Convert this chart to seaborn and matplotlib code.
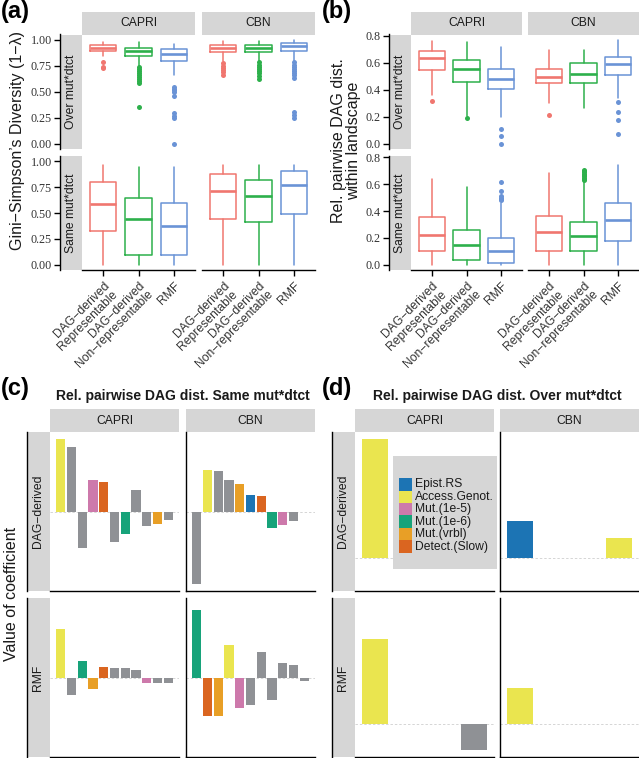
import matplotlib
matplotlib.use("Agg")
import matplotlib.pyplot as plt
from matplotlib.patches import Rectangle
import seaborn as sns
import numpy as np
import pandas as pd

# ---------------- data ----------------
BOX_GROUPS = ["DAG\u2212derived\nRepresentable", "DAG\u2212derived\nNon\u2212representable", "RMF"]
METHODS = ["CAPRI", "CBN"]
AB_ROWS = ["Over mut*dtct", "Same mut*dtct"]
BOX_COLORS = ["#F0766F", "#2DB04B", "#6A93D6"]

# (whisker low, Q1, median, Q3, whisker high) per group
A_OVER_CAPRI = [(0.846, 0.888, 0.920, 0.952, 0.974), (0.750, 0.846, 0.888, 0.920, 0.974), (0.663, 0.800, 0.865, 0.910, 0.960)]
A_OVER_CAPRI_OUT = [[0.79, 0.74, 0.73],
                    [0.737, 0.72, 0.70, 0.68, 0.66, 0.64, 0.62, 0.60, 0.583, 0.349],
                    [0.545, 0.53, 0.52, 0.50, 0.455, 0.295, 0.27, 0.247, 0.0]]
A_OVER_CBN = [(0.800, 0.880, 0.920, 0.952, 0.990), (0.800, 0.880, 0.920, 0.952, 0.990), (0.790, 0.888, 0.936, 0.968, 1.000)]
A_OVER_CBN_OUT = [[0.776, 0.75, 0.73, 0.71, 0.69, 0.657],
                  [0.785, 0.76, 0.74, 0.72, 0.70, 0.68, 0.65, 0.625],
                  [0.785, 0.76, 0.74, 0.72, 0.70, 0.68, 0.66, 0.63, 0.31, 0.28, 0.247]]
A_SAME_CAPRI = [(0.0, 0.327, 0.589, 0.795, 0.96), (0.0, 0.096, 0.445, 0.647, 0.94), (0.0, 0.096, 0.375, 0.593, 0.94)]
A_SAME_CAPRI_OUT = [[], [], []]
A_SAME_CBN = [(0.0, 0.440, 0.714, 0.872, 0.96), (0.0, 0.413, 0.666, 0.814, 0.96), (0.0, 0.490, 0.772, 0.901, 0.96)]
A_SAME_CBN_OUT = [[], [], []]

B_OVER_CAPRI = [(0.359, 0.548, 0.633, 0.690, 0.765), (0.209, 0.458, 0.553, 0.620, 0.757), (0.200, 0.404, 0.484, 0.558, 0.715)]
B_OVER_CAPRI_OUT = [[0.316], [0.192], [0.112, 0.057, 0.0]]
B_OVER_CBN = [(0.304, 0.449, 0.499, 0.558, 0.698), (0.267, 0.449, 0.521, 0.596, 0.698), (0.342, 0.509, 0.593, 0.645, 0.772)]
B_OVER_CBN_OUT = [[0.217], [], [0.309, 0.234, 0.174, 0.075]]
B_SAME_CAPRI = [(0.0, 0.105, 0.225, 0.358, 0.642), (0.0, 0.037, 0.145, 0.262, 0.582), (0.0, 0.013, 0.100, 0.200, 0.460)]
B_SAME_CAPRI_OUT = [[], [], [0.62, 0.55, 0.51, 0.50, 0.49, 0.48]]
B_SAME_CBN = [(0.0, 0.105, 0.242, 0.362, 0.682), (0.0, 0.105, 0.212, 0.317, 0.620), (0.0, 0.180, 0.332, 0.462, 0.742)]
B_SAME_CBN_OUT = [[], [0.71, 0.70, 0.69, 0.68, 0.67, 0.66, 0.65, 0.64, 0.63], []]

A_TICKS = [0.0, 0.25, 0.5, 0.75, 1.0]
A_TICKLABELS = ["0.00", "0.25", "0.50", "0.75", "1.00"]
B_TICKS = [0.0, 0.2, 0.4, 0.6, 0.8]
B_TICKLABELS = ["0.0", "0.2", "0.4", "0.6", "0.8"]

TERMS = ["Epist.RS", "Access.Genot.", "Mut.(1e-5)", "Mut.(1e-6)", "Mut.(vrbl)", "Detect.(Slow)"]
TERM_COLORS = ["#1C74B4", "#EAE54F", "#CD79AB", "#17A37A", "#E89F26", "#DA6520"]
OTHER = "other"
OTHER_COLOR = "#8F9195"
C_ROWS = ["DAG\u2212derived", "RMF"]

C_DAG_CAPRI_TERMS = ["Access.Genot.", OTHER, OTHER, "Mut.(1e-5)", "Detect.(Slow)", OTHER, "Mut.(1e-6)", OTHER, OTHER, "Mut.(vrbl)", OTHER]
C_DAG_CAPRI_VALS = [0.727, 0.650, -0.357, 0.323, 0.297, -0.297, -0.217, 0.217, -0.143, -0.117, -0.083]
C_DAG_CBN_TERMS = [OTHER, "Access.Genot.", OTHER, OTHER, "Mut.(vrbl)", "Epist.RS", "Detect.(Slow)", "Mut.(1e-6)", "Mut.(1e-5)", OTHER]
C_DAG_CBN_VALS = [-0.716, 0.423, 0.407, 0.323, 0.283, 0.167, 0.157, -0.157, -0.133, -0.093]
C_RMF_CAPRI_TERMS = ["Access.Genot.", OTHER, "Mut.(1e-6)", "Mut.(vrbl)", "Detect.(Slow)", OTHER, OTHER, OTHER, "Mut.(1e-5)", OTHER, OTHER]
C_RMF_CAPRI_VALS = [0.493, -0.173, 0.173, -0.113, 0.113, 0.100, 0.100, 0.083, -0.053, -0.053, -0.047]
C_RMF_CBN_TERMS = ["Mut.(1e-6)", "Detect.(Slow)", "Mut.(vrbl)", "Access.Genot.", "Mut.(1e-5)", OTHER, OTHER, OTHER, OTHER, OTHER, OTHER]
C_RMF_CBN_VALS = [0.683, -0.383, -0.377, 0.330, -0.300, -0.273, 0.257, -0.220, 0.150, 0.130, -0.030]
C_NSLOTS = 12

D_DAG_CAPRI_SLOTS = [1]
D_DAG_CAPRI_TERMS = ["Access.Genot."]
D_DAG_CAPRI_VALS = [1.193]
D_DAG_CBN_SLOTS = [1, 4]
D_DAG_CBN_TERMS = ["Epist.RS", "Access.Genot."]
D_DAG_CBN_VALS = [0.367, 0.200]
D_RMF_CAPRI_SLOTS = [1, 4]
D_RMF_CAPRI_TERMS = ["Access.Genot.", OTHER]
D_RMF_CAPRI_VALS = [0.850, -0.264]
D_RMF_CBN_SLOTS = [1]
D_RMF_CBN_TERMS = ["Access.Genot."]
D_RMF_CBN_VALS = [0.360]
D_NSLOTS = 4

# ---------------- style ----------------
sns.set_theme(style="white")
plt.rcParams['font.family'] = ['Liberation Sans', 'DejaVu Sans']
SERIF = ['Liberation Serif', 'DejaVu Serif']
STRIP = "#D6D6D6"
TXT = "#1A1A1A"
TICKTXT = "#333333"
SMALL = 8.7
TITLE = 11.5
PALETTE = dict(zip(TERMS, TERM_COLORS))
PALETTE[OTHER] = OTHER_COLOR

W, H = 639, 758
fig = plt.figure(figsize=(W / 100, H / 100), dpi=100)
fig.patch.set_facecolor("white")


def pax(x0, y0, x1, y1, z=1):
    return fig.add_axes([x0 / W, 1 - y1 / H, (x1 - x0) / W, (y1 - y0) / H], zorder=z)


def ftext(x, y, s, **kw):
    fig.text(x / W, 1 - y / H, s, **kw)


def hide_spines(ax, keep=()):
    for k, s in ax.spines.items():
        if k in keep:
            s.set_visible(True)
            s.set_color("black")
            s.set_linewidth(1.0)
        else:
            s.set_visible(False)


def top_strip(x0, y0, x1, y1, label):
    ax = pax(x0, y0, x1, y1)
    ax.set_facecolor(STRIP)
    hide_spines(ax)
    ax.set_xticks([]); ax.set_yticks([])
    ax.text(0.5, 0.5, label, ha='center', va='center', fontsize=SMALL, color=TXT, transform=ax.transAxes)
    return ax


def side_strip(x0, y0, x1, y1, label, ylim=None, ticks=None, ticklabels=None):
    ax = pax(x0, y0, x1, y1)
    ax.set_facecolor(STRIP)
    hide_spines(ax, keep=("left",))
    ax.set_xticks([])
    if ylim is not None:
        ax.set_ylim(*ylim)
    if ticks is not None:
        ax.set_yticks(ticks)
        ax.set_yticklabels(ticklabels, fontfamily=SERIF, fontsize=SMALL, color=TICKTXT)
        ax.tick_params(axis='y', left=True, length=4, width=1.0, color='black', pad=2)
    else:
        ax.set_yticks([])
    ax.text(0.5, 0.5, label, rotation=90, ha='center', va='center', fontsize=SMALL, color=TXT,
            transform=ax.transAxes)
    return ax


def limits(values):
    lo, hi = min(values), max(values)
    span = hi - lo
    return lo - 0.05 * span, hi + 0.05 * span


def box_panel(ax, stats5, outs, ylim, bottom):
    for i, (st, fl) in enumerate(zip(stats5, outs)):
        c = BOX_COLORS[i]
        lo, q1, md, q3, hi = st
        ax.bxp([dict(whislo=lo, q1=q1, med=md, q3=q3, whishi=hi, fliers=fl)], positions=[i + 1],
               widths=0.75, showcaps=False, showfliers=True, manage_ticks=False,
               boxprops=dict(color=c, linewidth=1.1),
               whiskerprops=dict(color=c, linewidth=1.1),
               medianprops=dict(color=c, linewidth=1.9, solid_capstyle='butt'),
               flierprops=dict(marker='o', markerfacecolor=c, markeredgecolor=c, markersize=3.6,
                               markeredgewidth=0, linestyle='none'))
    ax.set_xlim(0.4, 3.6)
    ax.set_ylim(*ylim)
    ax.set_facecolor("white")
    ax.set_yticks([])
    if bottom:
        hide_spines(ax, keep=("bottom",))
        ax.set_xticks([1, 2, 3])
        ax.set_xticklabels(BOX_GROUPS, rotation=45, ha='right', va='top', rotation_mode='anchor',
                           fontsize=SMALL, color=TICKTXT, multialignment='right', linespacing=1.0)
        ax.tick_params(axis='x', bottom=True, length=4, width=1.0, color='black', pad=3)
    else:
        hide_spines(ax)
        ax.set_xticks([])


def box_figure(xaxis, xstrip0, xcols, data, ticks, ticklabels):
    rows_y = [(34.5, 149.0), (156.0, 270.0)]
    allv = []
    for r in data:
        for stats5, outs in r:
            for st in stats5:
                allv += list(st)
            for fl in outs:
                allv += list(fl)
    ylim = limits(allv)
    for (x0, x1), m in zip(xcols, METHODS):
        top_strip(x0, 12, x1, 34.5, m)
    for ri, (y0, y1) in enumerate(rows_y):
        side_strip(xaxis, y0, xstrip0, y1, AB_ROWS[ri], ylim=ylim, ticks=ticks, ticklabels=ticklabels)
        for ci, (x0, x1) in enumerate(xcols):
            ax = pax(x0, y0, x1, y1)
            stats5, outs = data[ri][ci]
            box_panel(ax, stats5, outs, ylim, bottom=(ri == 1))


# ---------- panel (a) ----------
box_figure(60, 82, [(82, 195), (202, 315)],
           [[(A_OVER_CAPRI, A_OVER_CAPRI_OUT), (A_OVER_CBN, A_OVER_CBN_OUT)],
            [(A_SAME_CAPRI, A_SAME_CAPRI_OUT), (A_SAME_CBN, A_SAME_CBN_OUT)]],
           A_TICKS, A_TICKLABELS)
ftext(18, 141, "Gini\u2212Simpson\u2019s Diversity (1\u2212\u03bb)", rotation=90, ha='center', va='center',
      fontsize=TITLE, color=TXT)

# ---------- panel (b) ----------
box_figure(389, 411, [(411, 522), (528, 639)],
           [[(B_OVER_CAPRI, B_OVER_CAPRI_OUT), (B_OVER_CBN, B_OVER_CBN_OUT)],
            [(B_SAME_CAPRI, B_SAME_CAPRI_OUT), (B_SAME_CBN, B_SAME_CBN_OUT)]],
           B_TICKS, B_TICKLABELS)
ftext(346, 141, "Rel. pairwise DAG dist.\nwithin landscape", rotation=90, ha='center', va='center',
      fontsize=TITLE, color=TXT, multialignment='center', linespacing=0.95)


# ---------- bar panels ----------
def bar_panel(ax, slots, terms, vals, nslots, xlim, width, ylim, left_spine):
    df = pd.DataFrame({"slot": [str(s) for s in slots], "term": terms, "value": vals})
    order = [str(i) for i in range(1, nslots + 1)]
    sns.barplot(data=df, x="slot", y="value", hue="term", order=order, palette=PALETTE, dodge=False,
                width=width, saturation=1, errorbar=None, legend=False, linewidth=0, ax=ax)
    ax.axhline(0, color="#D5D5D5", linewidth=0.7, linestyle=(0, (2.5, 2)), zorder=0.5)
    ax.set_xlim(*xlim)
    ax.set_ylim(*ylim)
    ax.set_xlabel(""); ax.set_ylabel("")
    ax.set_xticks([]); ax.set_yticks([])
    ax.set_facecolor("white")
    hide_spines(ax, keep=("bottom", "left") if left_spine else ("bottom",))


rows_cd = [(432, 591), (598, 757)]

# panel (c)
c_data = [[(list(range(1, len(C_DAG_CAPRI_VALS) + 1)), C_DAG_CAPRI_TERMS, C_DAG_CAPRI_VALS),
           (list(range(1, len(C_DAG_CBN_VALS) + 1)), C_DAG_CBN_TERMS, C_DAG_CBN_VALS)],
          [(list(range(1, len(C_RMF_CAPRI_VALS) + 1)), C_RMF_CAPRI_TERMS, C_RMF_CAPRI_VALS),
           (list(range(1, len(C_RMF_CBN_VALS) + 1)), C_RMF_CBN_TERMS, C_RMF_CBN_VALS)]]
c_ylim = limits(C_DAG_CAPRI_VALS + C_DAG_CBN_VALS + C_RMF_CAPRI_VALS + C_RMF_CBN_VALS)
c_cols = [(50, 179), (186, 315)]
for (x0, x1), m in zip(c_cols, METHODS):
    top_strip(x0, 409, x1, 432, m)
for ri, (y0, y1) in enumerate(rows_cd):
    side_strip(27, y0, 50, y1, C_ROWS[ri])
    for ci, (x0, x1) in enumerate(c_cols):
        ax = pax(x0, y0, x1, y1)
        s, t, v = c_data[ri][ci]
        bar_panel(ax, s, t, v, C_NSLOTS, (-1, C_NSLOTS - 1), 0.88, c_ylim, left_spine=(ci == 1))
ftext(183, 396, "Rel. pairwise DAG dist. Same mut*dtct", ha='center', va='center', fontsize=10,
      fontweight='bold', color=TXT)
ftext(12, 594, "Value of coefficient", rotation=90, ha='center', va='center', fontsize=TITLE, color=TXT)

# panel (d)
d_data = [[(D_DAG_CAPRI_SLOTS, D_DAG_CAPRI_TERMS, D_DAG_CAPRI_VALS),
           (D_DAG_CBN_SLOTS, D_DAG_CBN_TERMS, D_DAG_CBN_VALS)],
          [(D_RMF_CAPRI_SLOTS, D_RMF_CAPRI_TERMS, D_RMF_CAPRI_VALS),
           (D_RMF_CBN_SLOTS, D_RMF_CBN_TERMS, D_RMF_CBN_VALS)]]
d_ylim = limits(D_DAG_CAPRI_VALS + D_DAG_CBN_VALS + D_RMF_CAPRI_VALS + D_RMF_CBN_VALS)
d_cols = [(355, 494), (500, 639)]
for (x0, x1), m in zip(d_cols, METHODS):
    top_strip(x0, 409, x1, 432, m)
for ri, (y0, y1) in enumerate(rows_cd):
    side_strip(332, y0, 355, y1, C_ROWS[ri])
    for ci, (x0, x1) in enumerate(d_cols):
        ax = pax(x0, y0, x1, y1)
        s, t, v = d_data[ri][ci]
        bar_panel(ax, s, t, v, D_NSLOTS, (-0.6, D_NSLOTS - 0.4), 0.78, d_ylim, left_spine=(ci == 1))
ftext(497, 396, "Rel. pairwise DAG dist. Over mut*dtct", ha='center', va='center', fontsize=10,
      fontweight='bold', color=TXT)

# legend (drawn in its own pixel-unit axes)
lx0, ly0, lx1, ly1 = 393, 456, 497, 569
lax = pax(lx0, ly0, lx1, ly1, z=10)
lax.set_xlim(0, lx1 - lx0)
lax.set_ylim(ly1 - ly0, 0)
lax.set_facecolor(STRIP)
hide_spines(lax)
lax.set_xticks([]); lax.set_yticks([])
step = 12.45
for i, term in enumerate(TERMS):
    yc = 28.3 + step * i
    lax.add_patch(Rectangle((6, yc - step / 2), 13, step, facecolor=PALETTE[term], edgecolor='none'))
    lax.text(22, yc, term, ha='left', va='center', fontsize=SMALL, color=TXT)

# panel tags
for x, y, tag in [(1, 11.5, "(a)"), (322, 11.5, "(b)"), (1, 389, "(c)"), (322, 389, "(d)")]:
    ftext(x, y, tag, ha='left', va='center', fontsize=17, fontweight='bold', color="black")

fig.savefig("out.png", dpi=100, facecolor="white")
